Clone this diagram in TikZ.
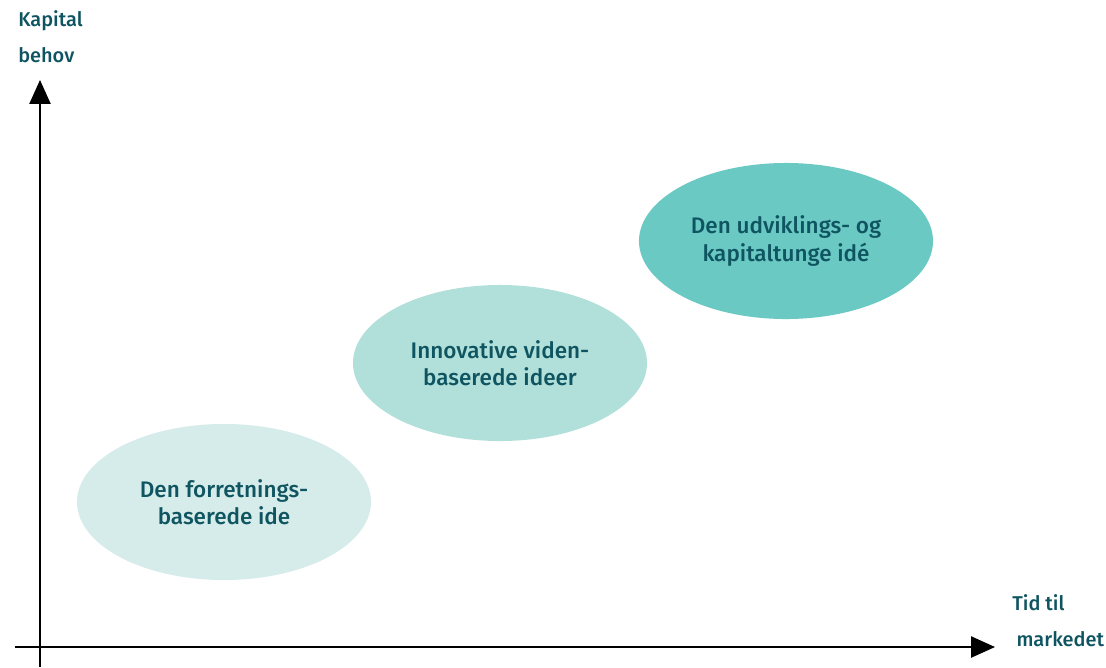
\documentclass[tikz,border=0pt]{standalone}
\usepackage{fontspec}
\setmainfont{Fira Sans}[UprightFont=* Medium]
\usetikzlibrary{arrows.meta, shapes.geometric}
\definecolor{tekst}{HTML}{0F5561}
\definecolor{lys}{HTML}{D6ECEA}
\definecolor{mellem}{HTML}{B1DFD9}
\definecolor{moerk}{HTML}{6BC9C4}
\tikzset{
  ide/.style={ellipse, minimum width=7.35cm, minimum height=3.9cm, inner sep=0pt,
    text=tekst, align=center, font=\fontsize{16}{19.5}\selectfont},
  akse/.style={line width=1.4pt, -{Triangle[length=17pt, width=15pt]}},
  aksetekst/.style={text=tekst, align=left, font=\fontsize{14.2}{25.5}\selectfont}
}
\begin{document}
\begin{tikzpicture}[x=0.025cm, y=-0.025cm]
  \useasboundingbox (0,0) rectangle (1106,667);
  % akser
  \coordinate (o) at (40,647);
  \coordinate (ytop) at (40,80);
  \coordinate (ybund) at (40,667);
  \coordinate (xstart) at (15,647);
  \coordinate (xend) at (995,647);
  \draw[akse] (ybund) -- (ytop);
  \draw[akse] (xstart) -- (xend);
  \node[aksetekst, anchor=north west, inner sep=0pt] (kapital) at (18,10) {Kapital\\behov};
  \node[aksetekst, anchor=north west, inner sep=0pt] (tid) at (1012,594) {Tid til\\\hspace*{3pt}markedet};
  % idetyper
  \node[ide, fill=lys] (forretning) at (224,502) {Den forretnings-\\baserede ide};
  \node[ide, fill=mellem] (viden) at (500,363) {Innovative viden-\\baserede ideer};
  \node[ide, fill=moerk] (kapitaltung) at (786,241) {Den udviklings- og\\kapitaltunge idé};
\end{tikzpicture}
\end{document}
